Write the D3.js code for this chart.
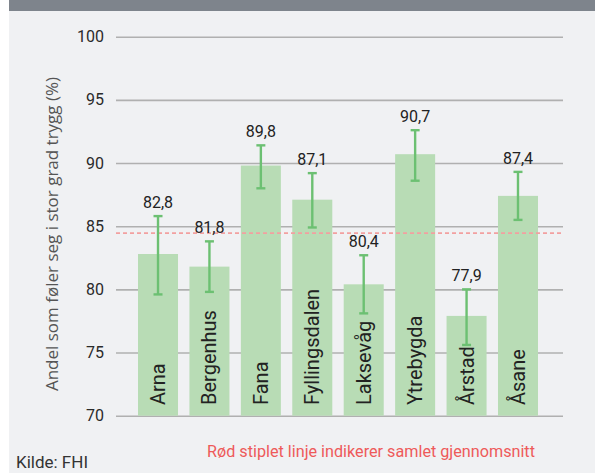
<!DOCTYPE html>
<html>
<head>
<meta charset="utf-8">
<script src="https://cdn.jsdelivr.net/npm/d3@7"></script>
<style>
  html, body { margin: 0; padding: 0; background: #fff; }
  svg { display: block; }
</style>
</head>
<body>
<svg id="chart" width="595" height="473"></svg>
<script>
// Bydeler i Bergen: andel som føler seg i stor grad trygg (%)
const districts = ["Arna", "Bergenhus", "Fana", "Fyllingsdalen", "Laksevåg", "Ytrebygda", "Årstad", "Åsane"];
const shares    = [82.8, 81.8, 89.8, 87.1, 80.4, 90.7, 77.9, 87.4];
const lowerCI   = [79.6, 79.8, 88.0, 84.9, 78.1, 88.6, 75.6, 85.5];
const upperCI   = [85.8, 83.8, 91.4, 89.2, 82.7, 92.6, 80.0, 89.3];
const overallMean = 84.45;
const yTicks = [70, 75, 80, 85, 90, 95, 100];

const svg = d3.select("#chart");
const W = 595, H = 473;
const font = "Roboto, 'Noto Sans', sans-serif";
const titleFont = "'Open Sans', 'Noto Sans', sans-serif";

// panel background and top band
svg.append("rect").attr("x", 9).attr("y", 0).attr("width", W - 9).attr("height", H).attr("fill", "#f0f1f3");
svg.append("rect").attr("x", 9).attr("y", 0).attr("width", W - 9).attr("height", 11).attr("fill", "#7e848c");

const y = d3.scaleLinear().domain([70, 100]).range([415.7, 36.7]);
const x = d3.scaleBand().domain(districts).range([132.3, 543.7]).paddingInner(0.222).paddingOuter(0.111);
const gridX0 = 116, gridX1 = 563;

// gridlines and tick labels
const yAxis = d3.axisLeft(y).tickValues(yTicks).tickFormat(d3.format("d"))
  .tickSize(-(gridX1 - gridX0)).tickPadding(12);
const gy = svg.append("g").attr("transform", `translate(${gridX0},0)`).call(yAxis);
gy.select(".domain").remove();
gy.selectAll(".tick line").attr("stroke", "#b0b0b0").attr("stroke-width", 1.6);
gy.selectAll(".tick text").attr("fill", "#2a2a2a").attr("font-family", font).attr("font-size", 16);

// bars
svg.append("g").selectAll("rect").data(districts).join("rect")
  .attr("x", d => x(d))
  .attr("width", x.bandwidth())
  .attr("y", (d, i) => y(shares[i]))
  .attr("height", (d, i) => y(70) - y(shares[i]))
  .attr("fill", "#b8dcb5");

// overall mean (dashed red)
svg.append("line")
  .attr("x1", gridX0).attr("x2", gridX1)
  .attr("y1", y(overallMean)).attr("y2", y(overallMean))
  .attr("stroke", "#f2a0a0").attr("stroke-width", 1.6).attr("stroke-dasharray", "4,3");

// error bars
const eg = svg.append("g").attr("stroke", "#6cc072").attr("stroke-width", 2.4);
districts.forEach((d, i) => {
  const cx = x(d) + x.bandwidth() / 2;
  eg.append("line").attr("x1", cx).attr("x2", cx).attr("y1", y(lowerCI[i])).attr("y2", y(upperCI[i]));
  eg.append("line").attr("x1", cx - 4.5).attr("x2", cx + 4.5).attr("y1", y(lowerCI[i])).attr("y2", y(lowerCI[i]));
  eg.append("line").attr("x1", cx - 4.5).attr("x2", cx + 4.5).attr("y1", y(upperCI[i])).attr("y2", y(upperCI[i]));
});

// value labels
const fmt = v => v.toFixed(1).replace(".", ",");
svg.append("g").selectAll("text").data(districts).join("text")
  .attr("x", d => x(d) + x.bandwidth() / 2)
  .attr("y", (d, i) => y(upperCI[i]) - 8)
  .attr("text-anchor", "middle")
  .attr("font-family", font).attr("font-size", 16).attr("fill", "#222")
  .text((d, i) => fmt(shares[i]));

// district names inside bars
svg.append("g").selectAll("text").data(districts).join("text")
  .attr("transform", d => `translate(${x(d) + x.bandwidth() / 2 + 7},405) rotate(-90)`)
  .attr("text-anchor", "start")
  .attr("font-family", font).attr("font-size", 20).attr("fill", "#222")
  .text(d => d);

// y-axis title
svg.append("text")
  .attr("transform", "translate(58,234) rotate(-90)")
  .attr("text-anchor", "middle")
  .attr("font-family", titleFont).attr("font-size", 17).attr("fill", "#555")
  .text("Andel som føler seg i stor grad trygg (%)");

// footnotes
svg.append("text").attr("x", 371).attr("y", 457).attr("text-anchor", "middle")
  .attr("font-family", font).attr("font-size", 16.2).attr("fill", "#ee5a5a")
  .text("Rød stiplet linje indikerer samlet gjennomsnitt");
svg.append("text").attr("x", 16).attr("y", 468)
  .attr("font-family", font).attr("font-size", 17).attr("fill", "#333")
  .text("Kilde: FHI");
</script>
</body>
</html>
